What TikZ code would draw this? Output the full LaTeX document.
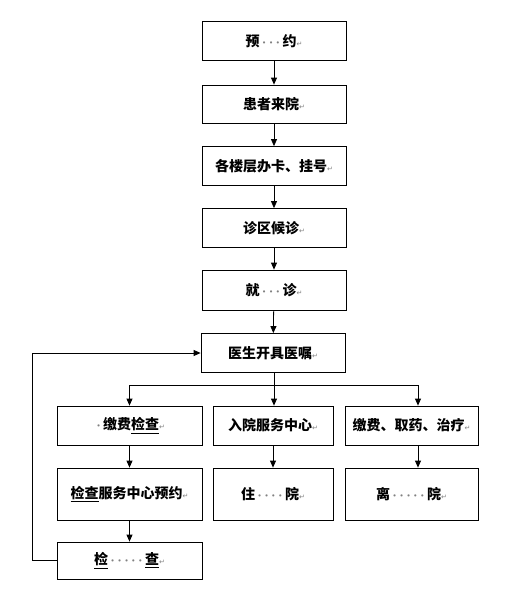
\documentclass[tikz,border=0pt]{standalone}
\usepackage{fontspec}
\usepackage{xcolor}
\usepackage{tikz}
\usetikzlibrary{arrows.meta}
\newfontfamily\cjk{Noto Sans CJK SC}
\newfontfamily\symfont{DejaVu Sans}
\newcommand\dg{\textcolor{gray}{\,$\boldsymbol{\cdot}$}}
\newcommand\retmark{\textcolor{gray}{\symfont\mdseries\fontsize{7}{7}\selectfont ↵}}
\usepackage{amsmath,amssymb}

\begin{document}
\begin{tikzpicture}[x=1pt, y=-1pt,
  box/.style={draw, line width=0.8pt, inner sep=0pt, minimum width=144pt, minimum height=39pt,
    font=\cjk\bfseries\fontsize{14}{16}\selectfont},
  >={Triangle[width=6pt,length=7pt]}, line width=0.8pt]
\useasboundingbox (0,0) rectangle (511,600);
\node[box] (book) at (274, 41) {预\dg\dg\dg\,约\retmark};
\node[box, minimum height=38pt] (arrive) at (274, 104) {患者来院\retmark};
\node[box] (reg) at (274, 166) {各楼层办卡、挂号\retmark};
\node[box] (wait) at (274, 228) {诊区候诊\retmark};
\node[box, minimum height=40pt] (visit) at (274, 290) {就\dg\dg\dg\,诊\retmark};
\node[box] (doc) at (273, 353) {医生开具医嘱\retmark};
\node[box, minimum width=145pt] (pay) at (129.5, 425.5) {\dg\,缴费\underline{检查}\retmark};
\node[box, minimum width=120pt] (admit) at (273, 425.5) {入院服务中心\retmark};
\node[box, minimum width=133pt] (drug) at (411.5, 425.5) {缴费、取药、治疗\retmark};
\node[box, minimum width=145pt, minimum height=52pt] (appt) at (129.5, 494) {\underline{检查}服务中心预约\retmark};
\node[box, minimum width=120pt, minimum height=52pt] (stay) at (273, 494) {住\dg\dg\dg\dg\,院\retmark};
\node[box, minimum width=133pt, minimum height=52pt] (leave) at (411.5, 494) {离\dg\dg\dg\dg\dg\,院\retmark};
\node[box, minimum width=145pt, minimum height=37pt] (exam) at (129.5, 560.5) {\underline{检}\dg\dg\dg\dg\dg\,\underline{查}\retmark};
\coordinate (split) at (274, 385);
\draw [->] (book) -- (arrive);
\draw [->] (arrive) -- (reg);
\draw [->] (reg) -- (wait);
\draw [->] (wait) -- (visit);
\draw [->] (visit) -- (doc);
\draw (doc.south -| split) -- (split);
\draw [->] (split) -| (pay.north);
\draw [->] (split) -- (admit.north -| split);
\draw [->] (split) -| ([xshift=6.5pt]drug.north);
\draw [->] (pay) -- (appt);
\draw [->] (admit) -- (stay);
\draw [->] ([xshift=6.5pt]drug.south) -- ([xshift=6.5pt]leave.north);
\draw [->] (appt) -- (exam);
\draw [->] (exam.west) -- ++(-24,0) |- (doc.west);
\end{tikzpicture}
\end{document}
